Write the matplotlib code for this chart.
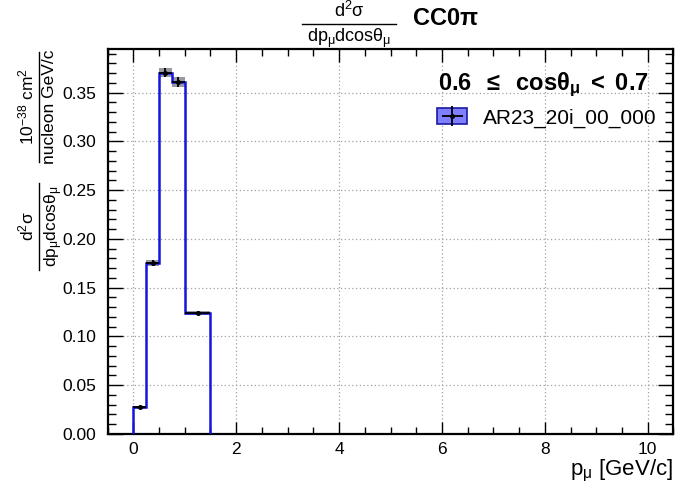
import matplotlib
matplotlib.use("Agg")
import matplotlib.pyplot as plt
import numpy as np
from matplotlib.lines import Line2D
from matplotlib.patches import Patch
from matplotlib.ticker import MultipleLocator

plt.rcParams['font.family'] = ['Liberation Sans', 'DejaVu Sans']
plt.rcParams['mathtext.fontset'] = 'custom'
plt.rcParams['mathtext.rm'] = 'Liberation Sans'
plt.rcParams['mathtext.it'] = 'Liberation Sans'
plt.rcParams['mathtext.sf'] = 'Liberation Sans'
plt.rcParams['mathtext.bf'] = 'Liberation Sans:bold'

# ---- data ----
bin_edges = [0.0, 0.25, 0.5, 0.75, 1.0, 1.5]
xsec = [0.0275, 0.1753, 0.3706, 0.3607, 0.1240]
xsec_err = [0.0015, 0.0030, 0.0050, 0.0048, 0.0016]
legend_label = "AR23_20i_00_000"
cos_label = r"$\mathbf{0.6\ \;\leq\;\ cos\theta_{\mu}\ <\ 0.7}$"
x_ticks = [0, 2, 4, 6, 8, 10]
y_ticks = [0.00, 0.05, 0.10, 0.15, 0.20, 0.25, 0.30, 0.35]

W, H = 683, 495
fig = plt.figure(figsize=(W / 100, H / 100), dpi=100)

def fx(px):
    return px / W

def fy(py):
    return 1 - py / H

ax = fig.add_axes([fx(107.5), fy(434), (673.5 - 107.5) / W, (434 - 48.7) / H])

edges = np.array(bin_edges)
v = np.array(xsec)
e = np.array(xsec_err)
centers = 0.5 * (edges[:-1] + edges[1:])
halfw = 0.5 * np.diff(edges)

# error band
ax.stairs(v + e, edges, baseline=v - e, fill=True, color='#6e6e7e', alpha=0.7,
          lw=0, zorder=2)
# histogram
ax.stairs(v, edges, baseline=0, color='#1414e0', lw=1.8, zorder=3)
# markers with errors
eb = ax.errorbar(centers, v, xerr=halfw, yerr=e, fmt='o', ms=2.6, color='black',
                 ecolor='black', elinewidth=1.3, capsize=0, zorder=4)

ax.set_xlim(-0.5, 10.5)
ax.set_ylim(0, 0.395)
ax.set_xticks(x_ticks)
ax.set_yticks(y_ticks)
ax.set_yticklabels([f"{t:.2f}" for t in y_ticks])
ax.xaxis.set_minor_locator(MultipleLocator(0.5))
ax.yaxis.set_minor_locator(MultipleLocator(0.01))
ax.tick_params(which='both', direction='in', top=True, right=True, width=1.0,
               labelsize=12.5, colors='black')
ax.tick_params(axis='x', which='major', length=9, pad=6)
ax.tick_params(axis='x', which='minor', length=5)
ax.tick_params(axis='y', which='major', length=11, pad=8)
ax.tick_params(axis='y', which='minor', length=6)
for s in ax.spines.values():
    s.set_linewidth(1.6)
ax.grid(True, which='major', color='#a0a0a0', linestyle=(0, (1, 2)), lw=0.9)
ax.set_axisbelow(True)

# x label
fig.text(fx(673), fy(471), r"p$_{\mu}$ [GeV/c]", ha='right', va='center', fontsize=16)

# cos label
ax.text(fx(649), fy(90), cos_label, transform=fig.transFigure, ha='right',
        va='baseline', fontsize=17)

# legend
patch = Patch(facecolor='#7f7fff', edgecolor='#1a1aa0', lw=1.2)
fig.legend(handles=[(patch, eb)], labels=[legend_label], loc='center left',
           bbox_to_anchor=(fx(437), fy(118)), frameon=False, fontsize=15,
           borderpad=0, borderaxespad=0, handlelength=1.45, handleheight=0.75,
           handletextpad=0.75)

def hfrac(xc, ybar, num, den, x0, x1, fs=13):
    fig.text(fx(xc), fy(ybar - 3), num, ha='center', va='bottom', fontsize=fs)
    fig.text(fx(xc), fy(ybar + 3), den, ha='center', va='top', fontsize=fs)
    fig.add_artist(Line2D([fx(x0), fx(x1)], [fy(ybar), fy(ybar)], color='black',
                          lw=1.0, transform=fig.transFigure))

def vfrac(xbar, yc, num, den, y0, y1, fs=12.5):
    fig.text(fx(xbar - 3), fy(yc), num, ha='right', va='center', rotation=90,
             fontsize=fs)
    fig.text(fx(xbar + 3), fy(yc), den, ha='left', va='center', rotation=90,
             fontsize=fs)
    fig.add_artist(Line2D([fx(xbar), fx(xbar)], [fy(y0), fy(y1)], color='black',
                          lw=1.0, transform=fig.transFigure))

# title
hfrac(349, 24, r"d$^{2}\sigma$", r"dp$_{\mu}$dcos$\theta_{\mu}$", 302, 396)
fig.text(fx(445), fy(19), r"$\mathbf{CC0\pi}$", ha='center', va='center', fontsize=17)

# y label
vfrac(39, 226, r"d$^{2}\sigma$", r"dp$_{\mu}$dcos$\theta_{\mu}$", 183, 270)
vfrac(39, 107, r"10$^{-38}$ cm$^{2}$", r"nucleon GeV/c", 52, 162)

fig.savefig("out.png", dpi=100)
